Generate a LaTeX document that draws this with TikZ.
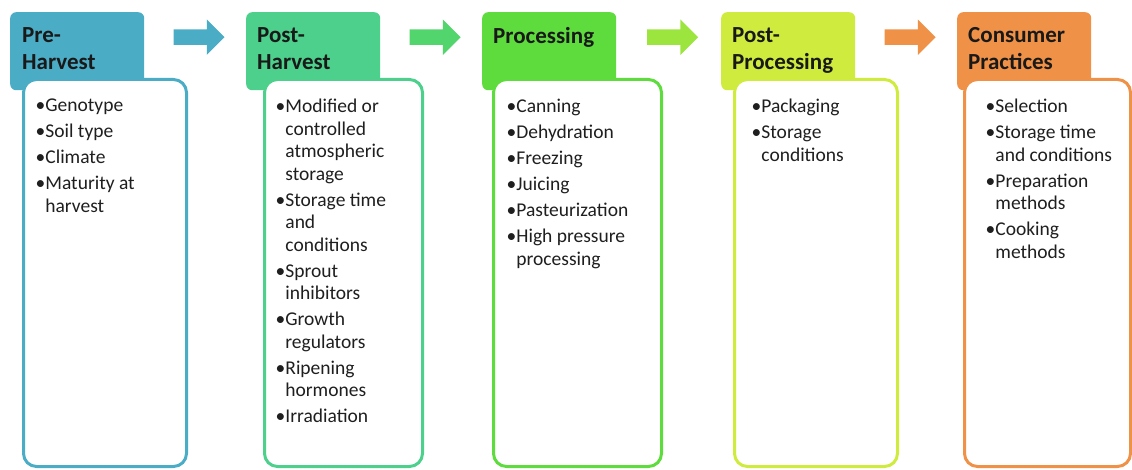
\documentclass[tikz,border=0pt]{standalone}
\usepackage{fontspec}
\setmainfont{Carlito}
\usetikzlibrary{positioning,calc,shapes.arrows}
\definecolor{preharv}{RGB}{75,172,198}
\definecolor{postharv}{RGB}{76,208,140}
\definecolor{procgreen}{RGB}{94,220,62}
\definecolor{postproc}{RGB}{207,236,62}
\definecolor{consumer}{RGB}{240,145,72}
\newcommand{\bulind}{\phantom{\textbullet}}
\tikzset{
  hdbox/.style={fill=#1, rounded corners=6pt, minimum width=134pt,
                minimum height=78pt, inner sep=0pt, anchor=north west},
  bodybox/.style={draw=#1, fill=white, line width=3pt, rounded corners=13pt,
                  minimum height=387pt, inner sep=0pt, anchor=north west},
  hdtext/.style={anchor=north west, inner sep=0pt, align=left, text=black!90,
                 font=\fontsize{23}{27.5}\selectfont\bfseries},
  listtext/.style={anchor=north west, inner sep=0pt, align=left, text=black!88,
                   font=\fontsize{19.5}{22.5}\selectfont},
  steparr/.style={single arrow, fill=#1, minimum height=51pt, inner xsep=0pt,
                  inner ysep=7.5pt, single arrow head extend=10pt, yshift=14pt},
}
\begin{document}
\begin{tikzpicture}[x=1pt, y=-1pt]
  \useasboundingbox (0,0) rectangle (1132,470);
  % header tabs
  \node[hdbox=preharv] (hd1) at (10,12) {};
  \node[hdbox=postharv] (hd2) at (246,12) {};
  \node[hdbox=procgreen] (hd3) at (482,12) {};
  \node[hdbox=postproc] (hd4) at (721,12) {};
  \node[hdbox=consumer] (hd5) at (957,12) {};
  \node[hdtext] (ht1) at ([xshift=12pt, yshift=-15pt]hd1.north west) {Pre-\\Harvest};
  \node[hdtext] (ht2) at ([xshift=11pt, yshift=-15pt]hd2.north west) {Post-\\Harvest};
  \node[hdtext] (ht3) at ([xshift=11pt, yshift=-15pt]hd3.north west) {Processing};
  \node[hdtext] (ht4) at ([xshift=11pt, yshift=-15pt]hd4.north west) {Post-\\Processing};
  \node[hdtext] (ht5) at ([xshift=11pt, yshift=-15pt]hd5.north west) {Consumer\\Practices};
  % body boxes
  \node[bodybox=preharv, minimum width=163pt] (bd1) at (22,78) {};
  \node[bodybox=postharv, minimum width=158pt] (bd2) at (263,78) {};
  \node[bodybox=procgreen, minimum width=168pt] (bd3) at (492,78) {};
  \node[bodybox=postproc, minimum width=163pt] (bd4) at (733,78) {};
  \node[bodybox=consumer, minimum width=166pt] (bd5) at (963,78) {};
  \node[listtext] (ls1) at ([xshift=13.5pt, yshift=-21pt]bd1.north west)
       {\textbullet Genotype\\[3.5pt]
        \textbullet Soil type\\[3.5pt]
        \textbullet Climate\\[3.5pt]
        \textbullet Maturity at\\
        \bulind harvest};
  \node[listtext] (ls2) at ([xshift=12.5pt, yshift=-21pt]bd2.north west)
       {\textbullet Modified or\\
        \bulind controlled\\
        \bulind atmospheric\\
        \bulind storage\\[3.5pt]
        \textbullet Storage time\\
        \bulind and\\
        \bulind conditions\\[3.5pt]
        \textbullet Sprout\\
        \bulind inhibitors\\[3.5pt]
        \textbullet Growth\\
        \bulind regulators\\[3.5pt]
        \textbullet Ripening\\
        \bulind hormones\\[3.5pt]
        \textbullet Irradiation};
  \node[listtext] (ls3) at ([xshift=14.5pt, yshift=-21pt]bd3.north west)
       {\textbullet Canning\\[3.5pt]
        \textbullet Dehydration\\[3.5pt]
        \textbullet Freezing\\[3.5pt]
        \textbullet Juicing\\[3.5pt]
        \textbullet Pasteurization\\[3.5pt]
        \textbullet High pressure\\
        \bulind processing};
  \node[listtext] (ls4) at ([xshift=18.5pt, yshift=-21pt]bd4.north west)
       {\textbullet Packaging\\[3.5pt]
        \textbullet Storage\\
        \bulind conditions};
  \node[listtext] (ls5) at ([xshift=22.5pt, yshift=-21pt]bd5.north west)
       {\textbullet Selection\\[3.5pt]
        \textbullet Storage time\\
        \bulind and conditions\\[3.5pt]
        \textbullet Preparation\\
        \bulind methods\\[3.5pt]
        \textbullet Cooking\\
        \bulind methods};
  % block arrows between the stages
  \node[steparr=preharv] (ar1) at ($(hd1.east)!0.5!(hd2.west)$) {};
  \node[steparr=postharv!60!procgreen] (ar2) at ($(hd2.east)!0.5!(hd3.west)$) {};
  \node[steparr=procgreen!45!postproc] (ar3) at ($(hd3.east)!0.5!(hd4.west)$) {};
  \node[steparr=consumer] (ar4) at ($(hd4.east)!0.5!(hd5.west)$) {};
\end{tikzpicture}
\end{document}
